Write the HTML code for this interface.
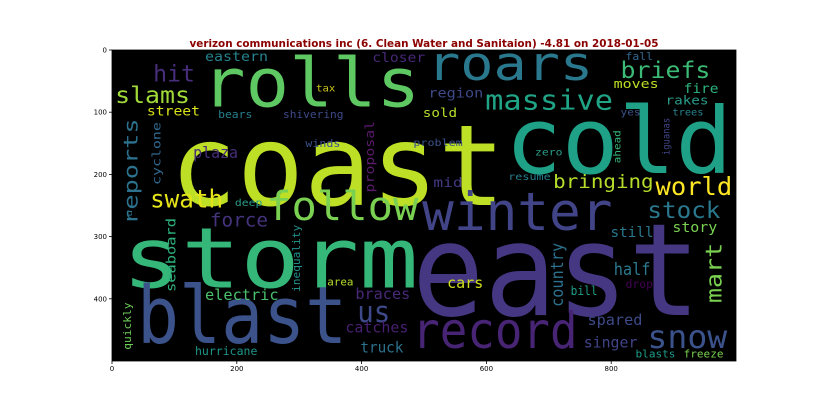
<!DOCTYPE html>
<html><head><meta charset="utf-8"><style>
html,body{margin:0;padding:0;background:#fff;}
svg{display:block;}
</style></head><body>
<svg id="chart" width="825" height="412" xmlns="http://www.w3.org/2000/svg">
<text x="424" y="47" text-anchor="middle" font-family="DejaVu Sans, Liberation Sans, sans-serif" font-weight="bold" font-size="10.4" fill="#8b0000">verizon communications inc (6. Clean Water and Sanitaion) -4.81 on 2018-01-05</text>
<rect x="112" y="50" width="624" height="311" fill="#000"/>
<g id="words"></g>
<g id="axes"></g>
</svg>
<script>
// word cloud data (image coords 0-1000 x 0-500)
const words   = ["eastern","closer","hit","rolls","tax","slams","street","bears","shivering","sold","winds","plaza","problem","coast","swath","deep","follow","roars","briefs","fall","moves","fire","region","massive","rakes","yes","trees","cold","zero","resume","mid","bringing","world","winter","stock","story","still","east","half","cars","drop","bill","record","spared","snow","singer","blasts","freeze","force","storm","area","braces","electric","blast","us","catches","truck","hurricane"];
const wordX0  = [149,417,66,144,327,5,56,170,274,498,310,130,483,93,61,197,247,505,815,823,804,916,507,598,887,815,898,630,678,635,515,707,871,497,858,898,799,481,804,537,823,735,481,762,858,756,839,916,157,16,345,390,149,40,393,374,398,133];
const wordX1  = [250,502,133,494,358,125,141,225,371,553,366,202,562,630,178,241,491,771,959,867,876,972,595,803,956,847,948,994,722,703,562,868,994,802,975,970,868,943,863,595,867,778,746,850,986,842,903,980,250,491,387,478,267,377,446,475,467,233];
const wordY   = [18,19,51,91,67,85,105,109,109,108,156,174,154,249,253,251,273,48,45,16,61,69,76,96,88,105,105,198,170,209,220,222,233,289,270,293,301,426,362,383,383,394,479,442,479,478,494,494,284,382,379,400,402,471,437,454,486,490];
const wordSize= [26,26,45,130,18,45,26,21,21,24,21,30,19,215,48,19,77,90,45,21,24,26,26,53,24,19,19,175,19,19,26,35,48,100,45,27,27,245,32,29,22,24,96,29,61,29,21,21,35,160,21,29,29,152,56,29,29,22];
const wordColor=["#26828e","#482878","#472d7b","#5ec962","#c9c21f","#a0da39","#d8e219","#277f8e","#3e4a89","#b5de2b","#3b528b","#472d7b","#3b528b","#bddf26","#e5e419","#2a9c89","#7ad151","#2a788e","#3bbb75","#31688e","#bddf26","#2db27d","#3e4989","#20a486","#2a9c89","#3b528b","#26828e","#1fa187","#2a9c89","#277f8e","#443983","#b5de2b","#fde725","#414487","#2a788e","#7ad151","#2a788e","#453781","#2a788e","#d0e11c","#440154","#1f9e89","#482475","#3e4a89","#3b528b","#414487","#1f9e89","#7ad151","#46337e","#35b779","#b5de2b","#482878","#4ac16d","#3b528b","#3e4989","#481f70","#2c728e","#1f968b"];
// vertical words
const vWords  = ["proposal","cyclone","reports","iguanas","ahead","mart","country","seaboard","inequality","quickly","u"];
const vU0     = [403,64,16,879,804,954,706,88,289,18,24];
const vU1     = [425,82,48,898,818,983,727,106,305,34,34];
const vV0     = [114,116,110,109,129,310,310,270,281,406,257];
const vV1     = [229,217,281,169,182,407,413,389,389,482,268];
const vSize   = [24,22,38,19,19,42,32,26,21,21,16];
const vColor  = ["#5c1a6e","#31688e","#2c728e","#414487","#35b779","#7ad151","#2c728e","#2db27d","#21918c","#6ece58","#2c728e"];
const xTicks  = [0,200,400,600,800];
const yTicks  = [0,100,200,300,400];

const X0=112, Y0=50, SX=0.624, SY=0.622, FS=0.84;
const xs = u => X0 + u*SX;
const ys = v => Y0 + v*SY;
const NS="http://www.w3.org/2000/svg";
const FONT='"DejaVu Sans Mono","Liberation Mono",monospace';
const g=document.getElementById('words');
const order = words.map((w,i)=>i).sort((a,b)=>wordSize[b]-wordSize[a]);
order.forEach(i=>{
  const w=words[i];
  const t=document.createElementNS(NS,'text');
  
  
  t.setAttribute('x',xs(wordX0[i]));
  t.setAttribute('y',ys(wordY[i]));
  t.setAttribute('font-family',FONT);
  t.setAttribute('font-size',wordSize[i]*SY*FS);
  t.setAttribute('fill',wordColor[i]);
  t.setAttribute('textLength',(wordX1[i]-wordX0[i])*SX);
  t.setAttribute('lengthAdjust','spacingAndGlyphs');
  t.textContent=w;
  g.appendChild(t);
});
vWords.forEach((w,i)=>{
  const t=document.createElementNS(NS,'text');
  
  
  const bx=xs(vU1[i])-(vU1[i]-vU0[i])*SX*0.22, by=ys(vV1[i]);
  t.setAttribute('x',0);t.setAttribute('y',0);
  t.setAttribute('transform','translate('+bx+','+by+') rotate(-90)');
  t.setAttribute('font-family',FONT);
  t.setAttribute('font-size',vSize[i]*SY*FS);
  t.setAttribute('fill',vColor[i]);
  t.setAttribute('textLength',(vV1[i]-vV0[i])*SY);
  t.setAttribute('lengthAdjust','spacingAndGlyphs');
  t.textContent=w;
  g.appendChild(t);
});
const a=document.getElementById('axes');
const frame=document.createElementNS(NS,'rect');


frame.setAttribute('x',X0);frame.setAttribute('y',Y0);frame.setAttribute('width',624);frame.setAttribute('height',311);
frame.setAttribute('fill','none');frame.setAttribute('stroke','#000');frame.setAttribute('stroke-width','0.8');
a.appendChild(frame);
xTicks.forEach(v=>{
  const l=document.createElementNS(NS,'line');
  
  
  l.setAttribute('x1',xs(v));l.setAttribute('x2',xs(v));l.setAttribute('y1',361);l.setAttribute('y2',364);l.setAttribute('stroke','#000');l.setAttribute('stroke-width','0.8');
  a.appendChild(l);
  const t=document.createElementNS(NS,'text');
  
  
  t.setAttribute('x',xs(v));t.setAttribute('y',371);t.setAttribute('text-anchor','middle');
  t.setAttribute('font-family','DejaVu Sans, Liberation Sans, sans-serif');t.setAttribute('font-size','7');
  t.textContent=v;a.appendChild(t);
});
yTicks.forEach(v=>{
  const l=document.createElementNS(NS,'line');
  
  
  l.setAttribute('x1',109);l.setAttribute('x2',112);l.setAttribute('y1',ys(v));l.setAttribute('y2',ys(v));l.setAttribute('stroke','#000');l.setAttribute('stroke-width','0.8');
  a.appendChild(l);
  const t=document.createElementNS(NS,'text');
  
  
  t.setAttribute('x',107);t.setAttribute('y',ys(v)+2.5);t.setAttribute('text-anchor','end');
  t.setAttribute('font-family','DejaVu Sans, Liberation Sans, sans-serif');t.setAttribute('font-size','7');
  t.textContent=v;a.appendChild(t);
});
</script>
</body></html>
